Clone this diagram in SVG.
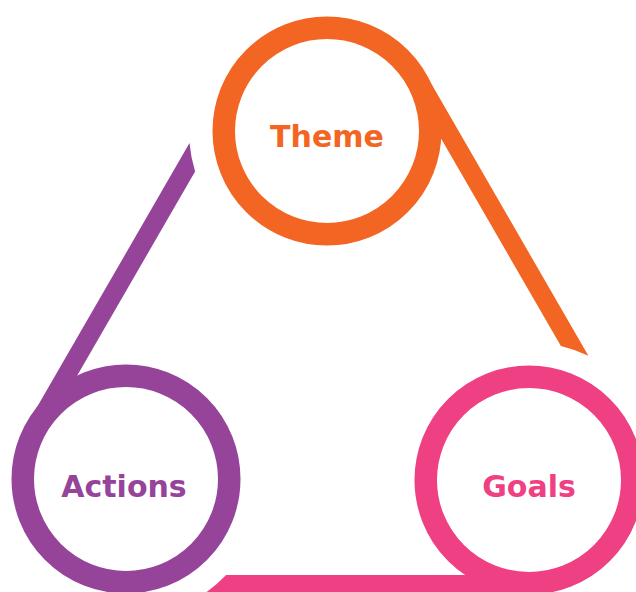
<svg xmlns="http://www.w3.org/2000/svg" width="636" height="592" viewBox="0 0 636 592">
  <style>
    .ring { fill: none; stroke-width: 22.5; }
    .label { font-family: "DejaVu Sans", "Liberation Sans", sans-serif; font-weight: 700; font-size: 30px; text-anchor: middle; }
    .orange { stroke: #F26522; }
    .pink { stroke: #EE4082; }
    .purple { stroke: #96449A; }
  </style>
  <rect width="636" height="592" fill="#FFFFFF"/>
  <g id="connectors">
    <path id="theme-to-goals" fill="#F26522" d="M409.3,83.5 L425.7,74 L588.4,355.8 A138,138 0 0 0 560.9,346 Z"/>
    <path id="actions-to-theme" fill="#96449A" d="M44.6,432 L28.1,422.5 L189.5,143.1 A138,138 0 0 0 195.1,171.5 Z"/>
    <path id="goals-to-actions" fill="#EE4082" d="M529,575 L529,594 L203.8,594 A138,138 0 0 0 226.1,575 Z"/>
  </g>
  <g id="theme">
    <circle class="ring orange" cx="327" cy="131" r="103.25"/>
    <text class="label" x="327" y="147" fill="#F26522">Theme</text>
  </g>
  <g id="goals">
    <circle class="ring pink" cx="529" cy="480" r="103.25"/>
    <text class="label" x="529" y="497" fill="#EE4082">Goals</text>
  </g>
  <g id="actions">
    <circle class="ring purple" cx="126" cy="479" r="103.25"/>
    <text class="label" x="124" y="497" fill="#96449A">Actions</text>
  </g>
</svg>
